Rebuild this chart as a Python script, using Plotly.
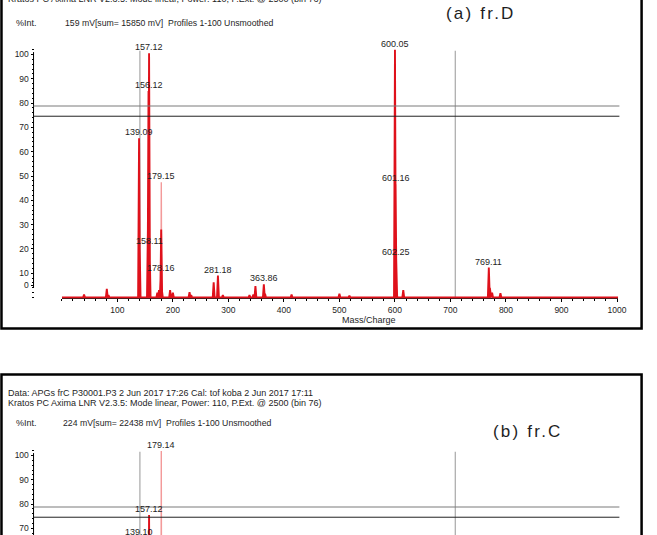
import plotly.graph_objects as go

W, H = 657, 535

# ---------------- data ----------------
# panel (a) fr.D : peak list (m/z, %Int)
A_MZ = [40, 81, 84, 139.09, 140.1, 155.1, 156.12, 157.12, 158.11, 172, 175,
        178.16, 179.0, 180.2, 195, 200, 230, 233, 273.5, 281.18, 290, 338,
        345, 348.7, 363.86, 366, 413.8, 500, 518, 600.05, 600.6, 601.16,
        602.25, 615, 769.11, 771, 775, 790]
A_INT = [1.2, 3.6, 1.0, 65.5, 22.0, 30.0, 85.0, 100.5, 20.8, 2.0, 3.0,
         9.7, 28.0, 3.0, 3.0, 2.0, 2.2, 1.0, 6.3, 9.0, 1.0, 1.0,
         1.2, 4.7, 5.4, 1.5, 1.2, 1.5, 0.8, 102.0, 58.0, 46.6,
         16.1, 3.0, 12.3, 4.0, 2.0, 1.8]
A_LIGHT_MZ = [179.15, 604]
A_LIGHT_INT = [47.4, 3.0]
A_LABEL_MZ = [157.12, 156.12, 139.09, 179.15, 158.11, 178.16, 281.18,
              363.86, 600.05, 601.16, 602.25, 769.11]
A_LABEL_INT = [100.5, 85.0, 65.5, 47.4, 20.8, 9.7, 9.0, 5.4, 102.0, 46.6,
               16.1, 12.3]
A_LABEL_TEXT = ["157.12", "156.12", "139.09", "179.15", "158.11", "178.16",
                "281.18", "363.86", "600.05", "601.16", "602.25", "769.11"]

# panel (b) fr.C (only the top of the plot is visible)
B_MZ = [139.10, 157.12]
B_INT = [66.0, 75.5]
B_LIGHT_MZ = [179.14]
B_LIGHT_INT = [101.8]
B_LABEL_MZ = [179.14, 157.12, 139.10]
B_LABEL_INT = [101.8, 75.5, 66.0]
B_LABEL_TEXT = ["179.14", "157.12", "139.10"]

# cursors drawn by the acquisition software
CURSOR_MZ = [140.6, 708.7]
CURSOR_LEVELS = [78.8, 74.6]

X_TICKS = [100, 200, 300, 400, 500, 600, 700, 800, 900, 1000]
Y_TICKS = [0, 10, 20, 30, 40, 50, 60, 70, 80, 90, 100]

A_HEAD = ["Kratos PC Axima LNR V2.3.5: Mode linear, Power: 110, P.Ext. @ 2500 (bin 76)"]
A_INFO = "159 mV[sum= 15850 mV]  Profiles 1-100 Unsmoothed"
B_HEAD = ["Data: APGs frC P30001.P3 2 Jun 2017 17:26 Cal: tof koba 2 Jun 2017 17:11",
          "Kratos PC Axima LNR V2.3.5: Mode linear, Power: 110, P.Ext. @ 2500 (bin 76)"]
B_INFO = "224 mV[sum= 22438 mV]  Profiles 1-100 Unsmoothed"
A_TITLE = "(a) fr.D"
B_TITLE = "(b) fr.C"

# ---------------- layout helpers ----------------
X_MIN, X_MAX = 0, 1002
PPU = 2.43                    # px per %Int
A_ZERO_PX = 297.5
B_ZERO_PX = A_ZERO_PX + 401
TOP_V = 102.5
CURSOR_TOP = 101.5
ZERO_LABEL_LIFT = 5
HALF_W = 1.7
RED = "#df111b"
PINK = "#f39a9a"
FONT = "Liberation Sans, Arial, sans-serif"
TXT = "#1e1e1e"

def px2p(py):
    return 1 - py / H

a_rng = [-0.4, TOP_V]
a_dom = [px2p(A_ZERO_PX + 0.4 * PPU), px2p(A_ZERO_PX - TOP_V * PPU)]
b_bottom_v = (B_ZERO_PX - H) / PPU
b_rng = [b_bottom_v, TOP_V]
b_dom = [0, px2p(B_ZERO_PX - TOP_V * PPU)]
x_dom = [62.7 / W, 626.7 / W]
YAX_X = 34 / W


def profile(mz, inten):
    xs, ys = [X_MIN], [0]
    for m, h in sorted(zip(mz, inten)):
        xs += [m - HALF_W, m, m + HALF_W]
        ys += [0, h, 0]
    xs.append(X_MAX)
    ys.append(0)
    return xs, ys


def sticks(mz, inten):
    xs, ys = [], []
    for m, h in zip(mz, inten):
        xs += [m - HALF_W * 0.4, m, m + HALF_W * 0.4, None]
        ys += [0, h, 0, None]
    return xs, ys


fig = go.Figure()
for (mz, it, lmz, lit, xa, ya) in [
        (A_MZ, A_INT, A_LIGHT_MZ, A_LIGHT_INT, "x", "y"),
        (B_MZ, B_INT, B_LIGHT_MZ, B_LIGHT_INT, "x2", "y2")]:
    lx, ly = sticks(lmz, lit)
    fig.add_trace(go.Scatter(x=lx, y=ly, mode="lines", xaxis=xa, yaxis=ya,
                             line=dict(color=PINK, width=1.4),
                             hoverinfo="skip", showlegend=False))
    px_, py_ = profile(mz, it)
    fig.add_trace(go.Scatter(x=px_, y=py_, mode="lines", xaxis=xa, yaxis=ya,
                             line=dict(color=RED, width=1.9),
                             hoverinfo="skip", showlegend=False))

shapes = []
ann = []

# frames
shapes.append(dict(type="rect", xref="paper", yref="paper",
                   x0=1.5 / W, x1=650.5 / W, y0=px2p(328.5), y1=px2p(-10),
                   line=dict(color="black", width=2.5)))
shapes.append(dict(type="rect", xref="paper", yref="paper",
                   x0=1.5 / W, x1=650.5 / W, y0=px2p(545), y1=px2p(374.5),
                   line=dict(color="black", width=2.5)))

for (xr, yr) in [("x", "y"), ("x2", "y2")]:
    # y-axis line
    shapes.append(dict(type="line", xref="paper", yref=yr, x0=YAX_X, x1=YAX_X,
                       y0=ZERO_LABEL_LIFT - 1, y1=CURSOR_TOP - 0.5,
                       line=dict(color="black", width=1)))
    # horizontal cursors
    for lvl, col in zip(CURSOR_LEVELS, ["#7a7a7a", "#222222"]):
        shapes.append(dict(type="line", xref="paper", yref=yr,
                           x0=YAX_X, x1=628 / W, y0=lvl, y1=lvl,
                           line=dict(color=col, width=1)))
    # vertical cursors
    for m in CURSOR_MZ:
        shapes.append(dict(type="line", xref=xr, yref=yr, x0=m, x1=m,
                           y0=0, y1=CURSOR_TOP, layer="below",
                           line=dict(color="#a8a8a8", width=1.2)))

# peak labels
def add_labels(mzs, ints, texts, xr, yr, rng, dom):
    for m, v, t in zip(mzs, ints, texts):
        if v >= rng[0]:
            ann.append(dict(x=m, y=v, xref=xr, yref=yr, text=t, showarrow=False,
                            yanchor="bottom", xanchor="center", yshift=-1,
                            font=dict(size=9, color=TXT, family=FONT)))
        else:
            pv = dom[0] + (v - rng[0]) / (rng[1] - rng[0]) * (dom[1] - dom[0])
            ann.append(dict(x=m, y=pv, xref=xr, yref="paper", text=t,
                            showarrow=False, yanchor="bottom", xanchor="center",
                            yshift=-1, font=dict(size=9, color=TXT, family=FONT)))

add_labels(A_LABEL_MZ, A_LABEL_INT, A_LABEL_TEXT, "x", "y", a_rng, a_dom)
add_labels(B_LABEL_MZ, B_LABEL_INT, B_LABEL_TEXT, "x2", "y2", b_rng, b_dom)

def txt(x_px, y_px, t, size=9, anchor="left"):
    ann.append(dict(x=x_px / W, y=px2p(y_px), xref="paper", yref="paper",
                    text=t, showarrow=False, xanchor=anchor, yanchor="middle",
                    font=dict(size=size, color=TXT, family=FONT)))

for i, line in enumerate(A_HEAD):
    txt(6, -1 + i * 10.6, line)
txt(14.5, 23.3, "%Int.")
txt(64, 23.3, A_INFO, size=8.7)
txt(488, 13.5, '<span style="letter-spacing:2.2px">%s</span>' % A_TITLE,
    size=17, anchor="center")
txt(344.7, 319.5, "Mass/Charge")

for i, line in enumerate(B_HEAD):
    txt(6, 392.7 + i * 10.6, line)
txt(14.5, 423.3, "%Int.")
txt(62, 423.3, B_INFO, size=8.7)
txt(535, 431.7, '<span style="letter-spacing:2.2px">%s</span>' % B_TITLE,
    size=17, anchor="center")

ytick_pos = [t if t else ZERO_LABEL_LIFT for t in Y_TICKS]
ytick_txt = [str(t) for t in Y_TICKS]

yax_common = dict(anchor="free", position=YAX_X, showline=False, showgrid=False,
                  zeroline=False, ticks="outside", ticklen=3, tickwidth=1,
                  tickcolor="black", tickmode="array", tickvals=ytick_pos,
                  ticktext=ytick_txt,
                  tickfont=dict(size=8.5, color=TXT, family=FONT),
                  minor=dict(ticks="outside", ticklen=2, tickcolor="black",
                             dtick=2, tick0=0, showgrid=False))

fig.update_layout(
    width=W, height=H, margin=dict(l=0, r=0, t=0, b=0),
    paper_bgcolor="white", plot_bgcolor="rgba(0,0,0,0)",
    showlegend=False,
    xaxis=dict(domain=x_dom, range=[X_MIN, X_MAX], anchor="y",
               showline=True, linecolor="#222", linewidth=1, layer="below traces",
               showgrid=False, zeroline=False, ticks="outside", ticklen=3,
               tickcolor="black", tickmode="array", tickvals=X_TICKS,
               ticktext=[str(t) for t in X_TICKS],
               tickfont=dict(size=8.5, color=TXT, family=FONT),
               minor=dict(ticks="outside", ticklen=2, tickcolor="black",
                          dtick=20, tick0=0, showgrid=False)),
    yaxis=dict(domain=a_dom, range=a_rng, **yax_common),
    xaxis2=dict(domain=x_dom, range=[X_MIN, X_MAX], anchor="y2", visible=False),
    yaxis2=dict(domain=b_dom, range=b_rng, **yax_common),
    shapes=shapes, annotations=ann,
)

fig.write_html("out.html")
